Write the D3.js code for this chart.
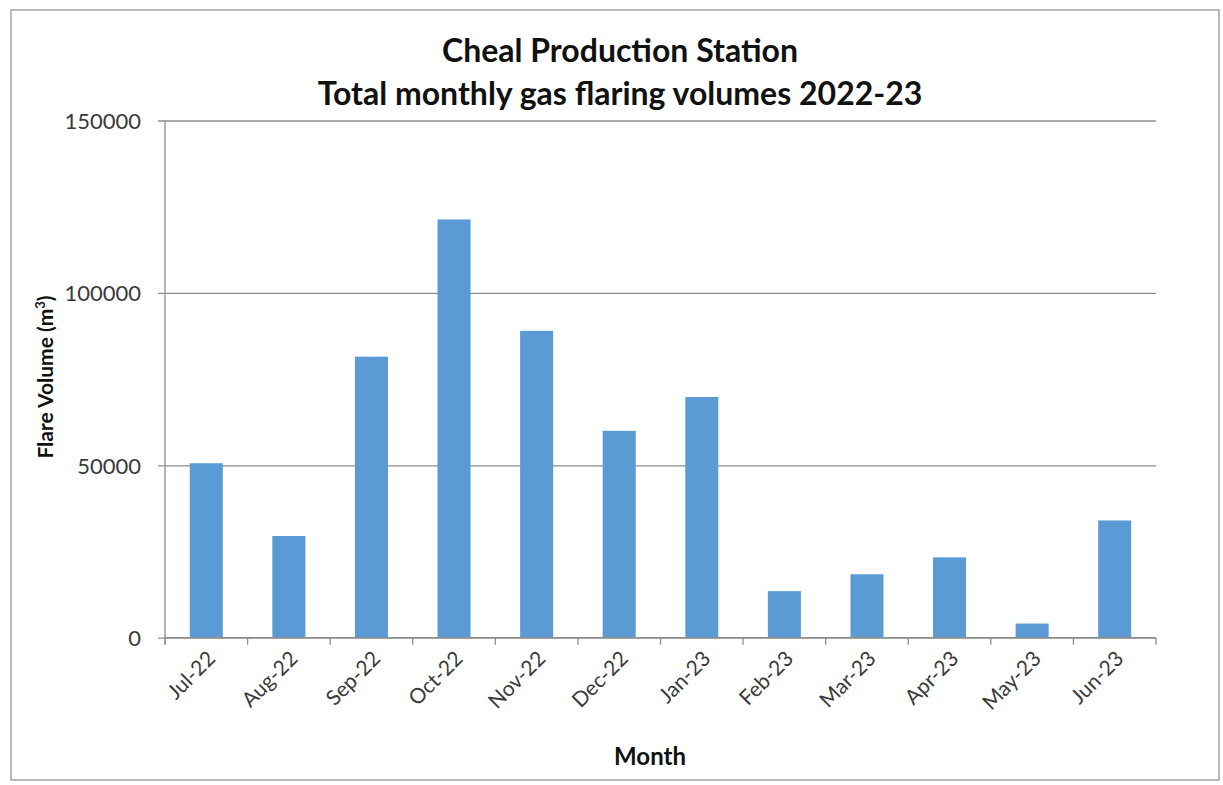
<!DOCTYPE html>
<html><head><meta charset="utf-8">
<script src="https://cdn.jsdelivr.net/npm/d3@7"></script>
<style>
body{margin:0;background:#fff;}
text{font-family:Lato,"Open Sans",sans-serif;}
</style></head>
<body><svg id="c" width="1223" height="785"></svg>
<script>
const months = ["Jul-22","Aug-22","Sep-22","Oct-22","Nov-22","Dec-22","Jan-23","Feb-23","Mar-23","Apr-23","May-23","Jun-23"];
const volumes = [50600,29500,81500,121300,89000,60000,69800,13500,18400,23300,4100,34000];
const yTicks = [0,50000,100000,150000];
const titleLines = ["Cheal Production Station","Total monthly gas flaring volumes 2022-23"];

const svg = d3.select("#c");
const m = {l:165, r:1156, t:120.5, b:637.7};
svg.append("rect").attr("x",11).attr("y",10).attr("width",1208).attr("height",770)
  .attr("fill","#fff").attr("stroke","#8c8c8c").attr("stroke-width",1.2);

const x = d3.scaleBand().domain(months).range([m.l,m.r]).paddingInner(0.6).paddingOuter(0.3);
const y = d3.scaleLinear().domain([0,150000]).range([m.b,m.t]);

// gridlines
const gy = svg.append("g").attr("transform",`translate(${m.l},0)`)
  .call(d3.axisLeft(y).tickValues(yTicks).tickSize(-(m.r-m.l)).tickSizeOuter(0).tickFormat(d=>d));
gy.select(".domain").remove();
gy.selectAll(".tick line").attr("stroke","#8e8e8e").attr("stroke-width",1.3).attr("x1",-7);
gy.selectAll(".tick text").attr("x",-24).attr("font-size",22).attr("fill","#3a3a3a").attr("dy","0.35em");

// y axis line
svg.append("line").attr("x1",m.l).attr("x2",m.l).attr("y1",m.t).attr("y2",m.b+7)
  .attr("stroke","#8e8e8e").attr("stroke-width",1.3);

// bars
svg.append("g").selectAll("rect").data(months).join("rect")
  .attr("x",d=>x(d)).attr("width",x.bandwidth())
  .attr("y",(d,i)=>y(volumes[i])).attr("height",(d,i)=>y(0)-y(volumes[i]))
  .attr("fill","#5b9bd5");

// x axis
const bandEdges = d3.range(months.length+1).map(i=>m.l + i*(m.r-m.l)/months.length);
svg.append("line").attr("x1",m.l).attr("x2",m.r).attr("y1",m.b).attr("y2",m.b)
  .attr("stroke","#8e8e8e").attr("stroke-width",1.3);
svg.append("g").selectAll("line").data(bandEdges).join("line")
  .attr("x1",d=>d).attr("x2",d=>d).attr("y1",m.b).attr("y2",m.b+7)
  .attr("stroke","#8e8e8e").attr("stroke-width",1.3);
svg.append("g").selectAll("text").data(months).join("text")
  .attr("transform",d=>`translate(${x(d)+x.bandwidth()/2+5},${m.b+17}) rotate(-45)`)
  .attr("text-anchor","end").attr("dy","0.35em")
  .attr("font-size",21).attr("fill","#3a3a3a").text(d=>d);

// titles
svg.append("g").selectAll("text").data(titleLines).join("text")
  .attr("x",620).attr("y",(d,i)=>62+i*43).attr("text-anchor","middle")
  .attr("font-size",32).attr("font-weight","bold").attr("fill","#111").text(d=>d);

svg.append("text").attr("x",650).attr("y",765).attr("text-anchor","middle")
  .attr("font-size",24).attr("font-weight","bold").attr("fill","#111").text("Month");

const yl = svg.append("text").attr("transform","translate(53,377) rotate(-90)")
  .attr("text-anchor","middle").attr("font-size",21).attr("font-weight","bold").attr("fill","#111");
yl.append("tspan").text("Flare Volume (m");
yl.append("tspan").attr("font-size",13).attr("dy","-0.6em").text("3");
yl.append("tspan").attr("dy","0.38em").text(")");
</script></body></html>
